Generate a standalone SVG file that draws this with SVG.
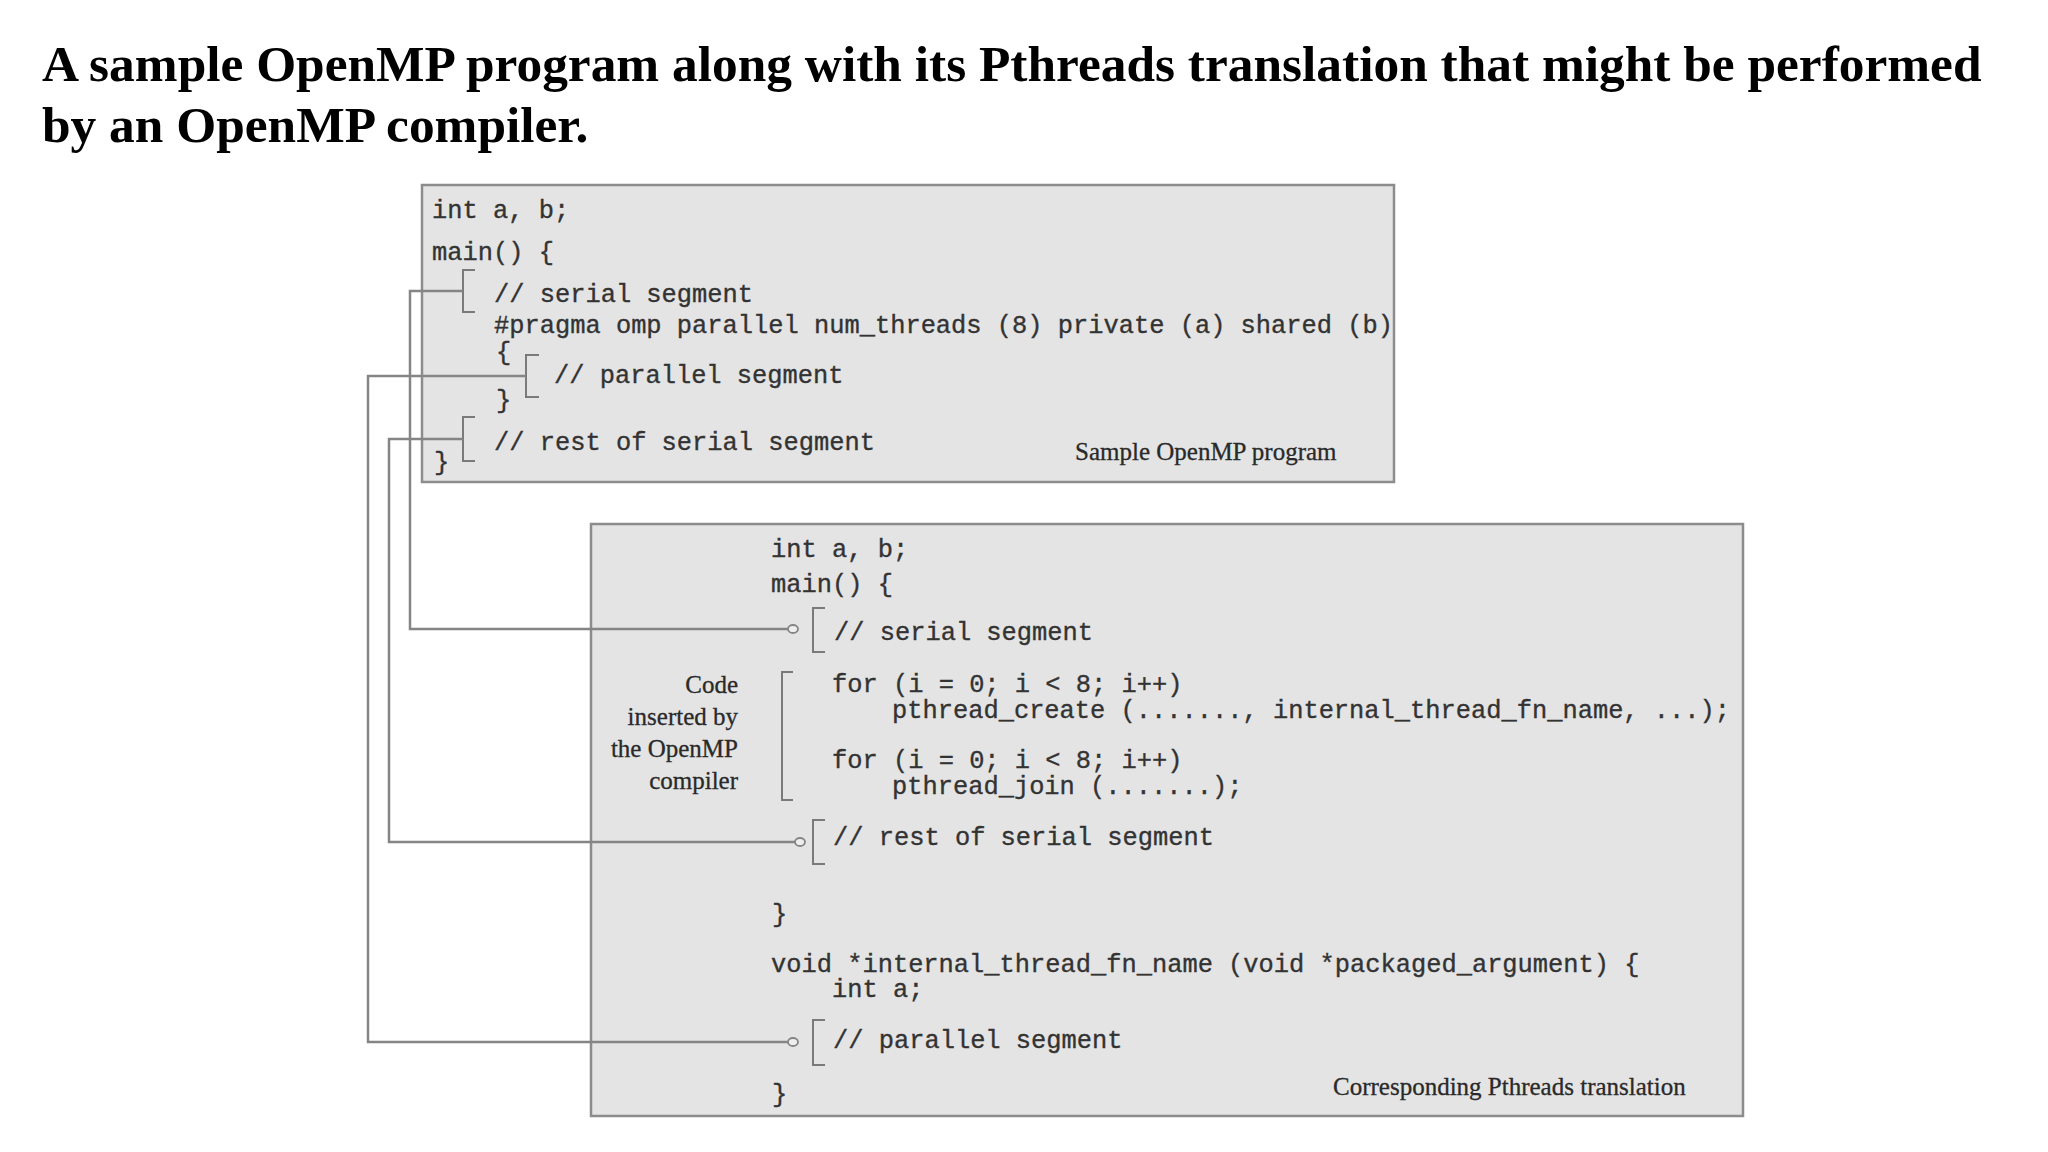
<svg xmlns="http://www.w3.org/2000/svg" width="2048" height="1152" viewBox="0 0 2048 1152">
  <style>
    .title { font-family: "Liberation Serif", "Times New Roman", serif; font-weight: bold; font-size: 51.4px; fill: #000; }
    .code { font-family: "Liberation Mono", "Courier New", monospace; font-size: 25.4px; fill: #333333; stroke: #333333; stroke-width: 0.35; white-space: pre; }
    .label { font-family: "Liberation Serif", "Times New Roman", serif; font-size: 25px; fill: #2a2a2a; stroke: #2a2a2a; stroke-width: 0.3; }
    .box { fill: #e4e4e4; stroke: #8c8c8c; stroke-width: 2.5; }
    .brk { fill: none; stroke: #7a7a7a; stroke-width: 2; }
    .conn { fill: none; stroke: #858585; stroke-width: 2.5; }
  </style>
  <defs>
    <marker id="dot" viewBox="-6 -6 12 12" markerWidth="12" markerHeight="12" markerUnits="userSpaceOnUse" refX="0" refY="0" orient="auto">
      <ellipse cx="0" cy="0" rx="5" ry="4" fill="#eeeeee" stroke="#858585" stroke-width="1.8"/>
    </marker>
  </defs>
  <rect width="2048" height="1152" fill="#ffffff"/>

  <g id="title">
    <text class="title" x="42" y="81">A sample OpenMP program along with its Pthreads translation that might be performed</text>
    <text class="title" x="42" y="142">by an OpenMP compiler.</text>
  </g>

  <g id="openmp-program">
    <rect class="box" x="422" y="185" width="972" height="297"/>
    <text class="code" x="432" y="218">int a, b;</text>
    <text class="code" x="432" y="260">main() {</text>
    <text class="code" x="494" y="302">// serial segment</text>
    <text class="code" x="494" y="333">#pragma omp parallel num_threads (8) private (a) shared (b)</text>
    <text class="code" x="496" y="360">{</text>
    <text class="code" x="554" y="383">// parallel segment</text>
    <text class="code" x="496" y="408">}</text>
    <text class="code" x="494" y="450">// rest of serial segment</text>
    <text class="code" x="434" y="470">}</text>
    <path class="brk" d="M475 270 H463 V312 H475"/>
    <path class="brk" d="M539 355 H526 V397 H539"/>
    <path class="brk" d="M475 417 H463 V461 H475"/>
    <text class="label" x="1075" y="460">Sample OpenMP program</text>
  </g>

  <g id="pthreads-translation">
    <rect class="box" x="591" y="524" width="1152" height="592"/>
    <text class="code" x="771" y="557">int a, b;</text>
    <text class="code" x="771" y="592">main() {</text>
    <text class="code" x="834" y="640">// serial segment</text>
    <text class="code" x="832" y="692">for (i = 0; i &lt; 8; i++)</text>
    <text class="code" x="892" y="718">pthread_create (......., internal_thread_fn_name, ...);</text>
    <text class="code" x="832" y="768">for (i = 0; i &lt; 8; i++)</text>
    <text class="code" x="892" y="794">pthread_join (.......);</text>
    <text class="code" x="833" y="845">// rest of serial segment</text>
    <text class="code" x="772" y="922">}</text>
    <text class="code" x="771" y="972">void *internal_thread_fn_name (void *packaged_argument) {</text>
    <text class="code" x="832" y="997">int a;</text>
    <text class="code" x="833" y="1048">// parallel segment</text>
    <text class="code" x="772" y="1102">}</text>
    <path class="brk" d="M825 608 H813 V652 H825"/>
    <path class="brk" d="M793 672 H782 V800 H793"/>
    <path class="brk" d="M825 820 H813 V864 H825"/>
    <path class="brk" d="M825 1020 H813 V1065 H825"/>
    <g class="label" text-anchor="end">
      <text x="738" y="693">Code</text>
      <text x="738" y="725">inserted by</text>
      <text x="738" y="757">the OpenMP</text>
      <text x="738" y="789">compiler</text>
    </g>
    <text class="label" x="1333" y="1095">Corresponding Pthreads translation</text>
  </g>

  <g id="connectors">
    <path class="conn" d="M463 291 H410 V629 H793" marker-end="url(#dot)"/>
    <path class="conn" d="M526 376 H368 V1042 H793" marker-end="url(#dot)"/>
    <path class="conn" d="M463 439 H389 V842 H800" marker-end="url(#dot)"/>
  </g>
</svg>
